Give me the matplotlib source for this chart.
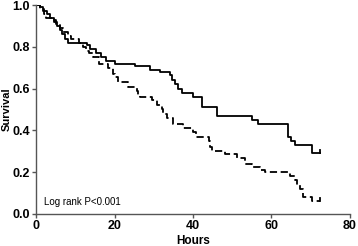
import matplotlib
matplotlib.use("Agg")
from matplotlib import pyplot as plt

# ---------------------------------- DATA ---------------------------------- #

solid_t = [0, 1, 1.8, 2.8, 3.6, 4.6, 5.3, 6.1, 6.6, 7.4, 8.2, 13, 13.8, 15.3, 16.6,
           17.8, 20.1, 25.2, 29, 31.6, 34.1, 34.6, 35.4, 36.2, 37.2, 40, 42.3, 46.1,
           55, 56.6, 64.2, 65, 66, 70.3, 72.4]
solid_s = [1.0, 0.99, 0.97, 0.96, 0.94, 0.92, 0.90, 0.88, 0.86, 0.84, 0.82, 0.81, 0.79,
           0.77, 0.75, 0.73, 0.72, 0.71, 0.69, 0.68, 0.665, 0.64, 0.62, 0.60, 0.58, 0.56,
           0.51, 0.47, 0.45, 0.43, 0.37, 0.35, 0.33, 0.29, 0.29]

dashed_t = [0, 1, 2, 2.5, 4, 5, 6, 7, 8.2, 9, 11, 12, 12.7, 13.5, 14.5, 16, 18.3, 19.6,
            20.1, 21, 23.4, 25.7, 26, 26.5, 29.5, 30.8, 32, 32.4, 33.4, 34.9, 37.5, 40,
            40.8, 44.1, 44.3, 44.8, 48.2, 51.2, 53.2, 55, 57, 58.3, 64.7, 66, 66.5, 67.3,
            68, 70.3, 72.4]
dashed_s = [1.0, 0.98, 0.96, 0.94, 0.93, 0.91, 0.89, 0.87, 0.85, 0.84, 0.82, 0.80, 0.78,
            0.77, 0.75, 0.72, 0.70, 0.67, 0.655, 0.63, 0.61, 0.59, 0.57, 0.56, 0.545, 0.52,
            0.50, 0.48, 0.46, 0.43, 0.41, 0.39, 0.37, 0.35, 0.32, 0.30, 0.285, 0.265, 0.24,
            0.225, 0.21, 0.20, 0.18, 0.16, 0.14, 0.12, 0.08, 0.06, 0.06]

x_ticks = [0, 20, 40, 60, 80]
y_ticks = [0.0, 0.2, 0.4, 0.6, 0.8, 1.0]

# ---------------------------------- PLOT ---------------------------------- #

plt.rcParams["font.family"] = ["Liberation Sans", "DejaVu Sans"]

fig = plt.figure(figsize=(3.58, 2.46), dpi=100)
ax = fig.add_axes([0.1006, 0.131, 0.877, 0.848])

ax.step(solid_t, solid_s, where="post", color="black", lw=1.3)
ax.step(dashed_t, dashed_s, where="post", color="black", lw=1.3, dashes=(4, 2))
# censor ticks at the end of each curve (upward only)
for t, s in [(solid_t[-1], solid_s[-1]), (dashed_t[-1], dashed_s[-1])]:
    ax.plot([t, t], [s, s + 0.015], color="black", lw=1.3)

ax.set_xlim(0, 80)
ax.set_ylim(0, 1.0)
ax.set_xticks(x_ticks)
ax.set_yticks(y_ticks)
ax.set_xticklabels([str(t) for t in x_ticks], fontsize=9, fontweight="bold")
ax.set_yticklabels([f"{t:.1f}" for t in y_ticks], fontsize=9, fontweight="bold")
ax.tick_params(direction="out", length=3, width=1, color="#555555", pad=1.5)

for side in ["top", "right"]:
    ax.spines[side].set_visible(False)
for side in ["left", "bottom"]:
    ax.spines[side].set_color("#555555")
    ax.spines[side].set_linewidth(1.0)

ax.set_xlabel("Hours", fontsize=8.5, fontweight="bold", labelpad=2)
ax.set_ylabel("Survival", fontsize=8, fontweight="bold")
ax.yaxis.set_label_coords(-0.076, 0.5)
ax.text(2, 0.04, "Log rank P<0.001", fontsize=7)

fig.savefig("out.png", dpi=100)
